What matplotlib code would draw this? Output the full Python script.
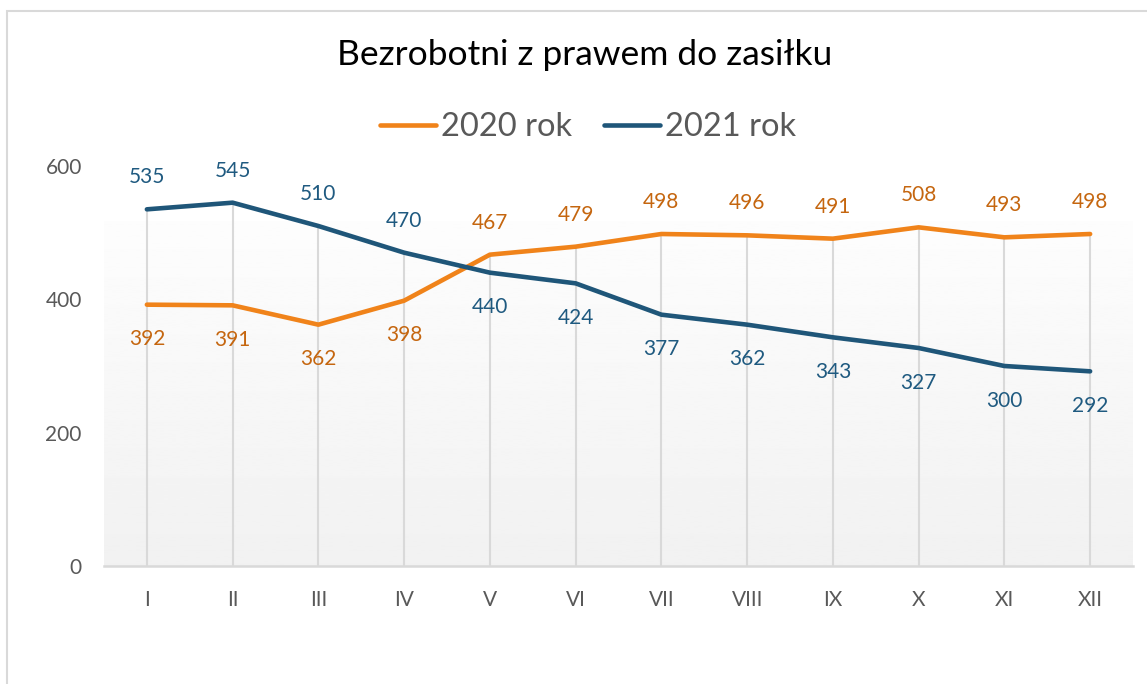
import numpy as np
import matplotlib
matplotlib.use("Agg")
import matplotlib.pyplot as plt
from matplotlib.patches import Rectangle

# data
months = ["I", "II", "III", "IV", "V", "VI", "VII", "VIII", "IX", "X", "XI", "XII"]
rok_2020 = [392, 391, 362, 398, 467, 479, 498, 496, 491, 508, 493, 498]
rok_2021 = [535, 545, 510, 470, 440, 424, 377, 362, 343, 327, 300, 292]

orange = "#f0831a"
orange_lbl = "#c5660f"
blue = "#1f5679"
blue_lbl = "#1f5a80"
grey_txt = "#595959"
grid_col = "#d9d9d9"

plt.rcParams['font.family'] = ['Lato', 'DejaVu Sans']

fig = plt.figure(figsize=(11.47, 6.84), dpi=100)
ax = fig.add_axes([104 / 1147, 118 / 684, 1029 / 1147, 400 / 684])

x = np.arange(len(months))

# gradient plot area
grad = np.linspace(0.992, 0.945, 256).reshape(-1, 1)
ax.imshow(grad, cmap="gray", vmin=0, vmax=1, aspect="auto",
          extent=(-0.5, 11.5, 0, 516), origin="upper", zorder=0)

# drop lines
tops = np.maximum(rok_2020, rok_2021)
ax.vlines(x, 0, tops, color=grid_col, lw=1.5, zorder=1)

ax.plot(x, rok_2020, color=orange, lw=3.3, label="2020 rok", zorder=3,
        solid_capstyle="round")
ax.plot(x, rok_2021, color=blue, lw=3.3, label="2021 rok", zorder=3,
        solid_capstyle="round")

# data labels: above if higher series, below otherwise
for i in range(len(months)):
    a, b = rok_2020[i], rok_2021[i]
    off_a = 23 if a > b else -25
    off_b = 23 if b > a else -25
    ax.annotate(str(a), (x[i], a), xytext=(0, off_a), textcoords="offset points",
                ha="center", va="center", color=orange_lbl, fontsize=15)
    ax.annotate(str(b), (x[i], b), xytext=(0, off_b), textcoords="offset points",
                ha="center", va="center", color=blue_lbl, fontsize=15)

ax.set_xlim(-0.5, 11.5)
ax.set_ylim(0, 600)
ax.set_yticks([0, 200, 400, 600])
ax.set_xticks(x)
ax.set_xticklabels(months)
ax.tick_params(axis="both", length=0, colors=grey_txt, labelsize=15)
ax.tick_params(axis="x", pad=17)
ax.tick_params(axis="y", pad=16)
for s in ["top", "right", "left"]:
    ax.spines[s].set_visible(False)
ax.spines["bottom"].set_color(grid_col)
ax.spines["bottom"].set_linewidth(1.8)
ax.set_facecolor("white")

fig.text(585 / 1147, 1 - 55 / 684, "Bezrobotni z prawem do zasiłku",
         ha="center", va="center", fontsize=25.5, color="black")

fig.legend(loc="center", bbox_to_anchor=(588 / 1147, 1 - 127 / 684),
           ncol=2, frameon=False, fontsize=23.5, labelcolor=grey_txt,
           handlelength=1.7, handletextpad=0.15, columnspacing=1.0)

# outer chart border
fig.patches.append(Rectangle((7 / 1147, -0.1), 1.1, 1.1 - 11 / 684,
                             transform=fig.transFigure, fill=False,
                             edgecolor=grid_col, lw=1.5))

fig.savefig("out.png", dpi=100)
